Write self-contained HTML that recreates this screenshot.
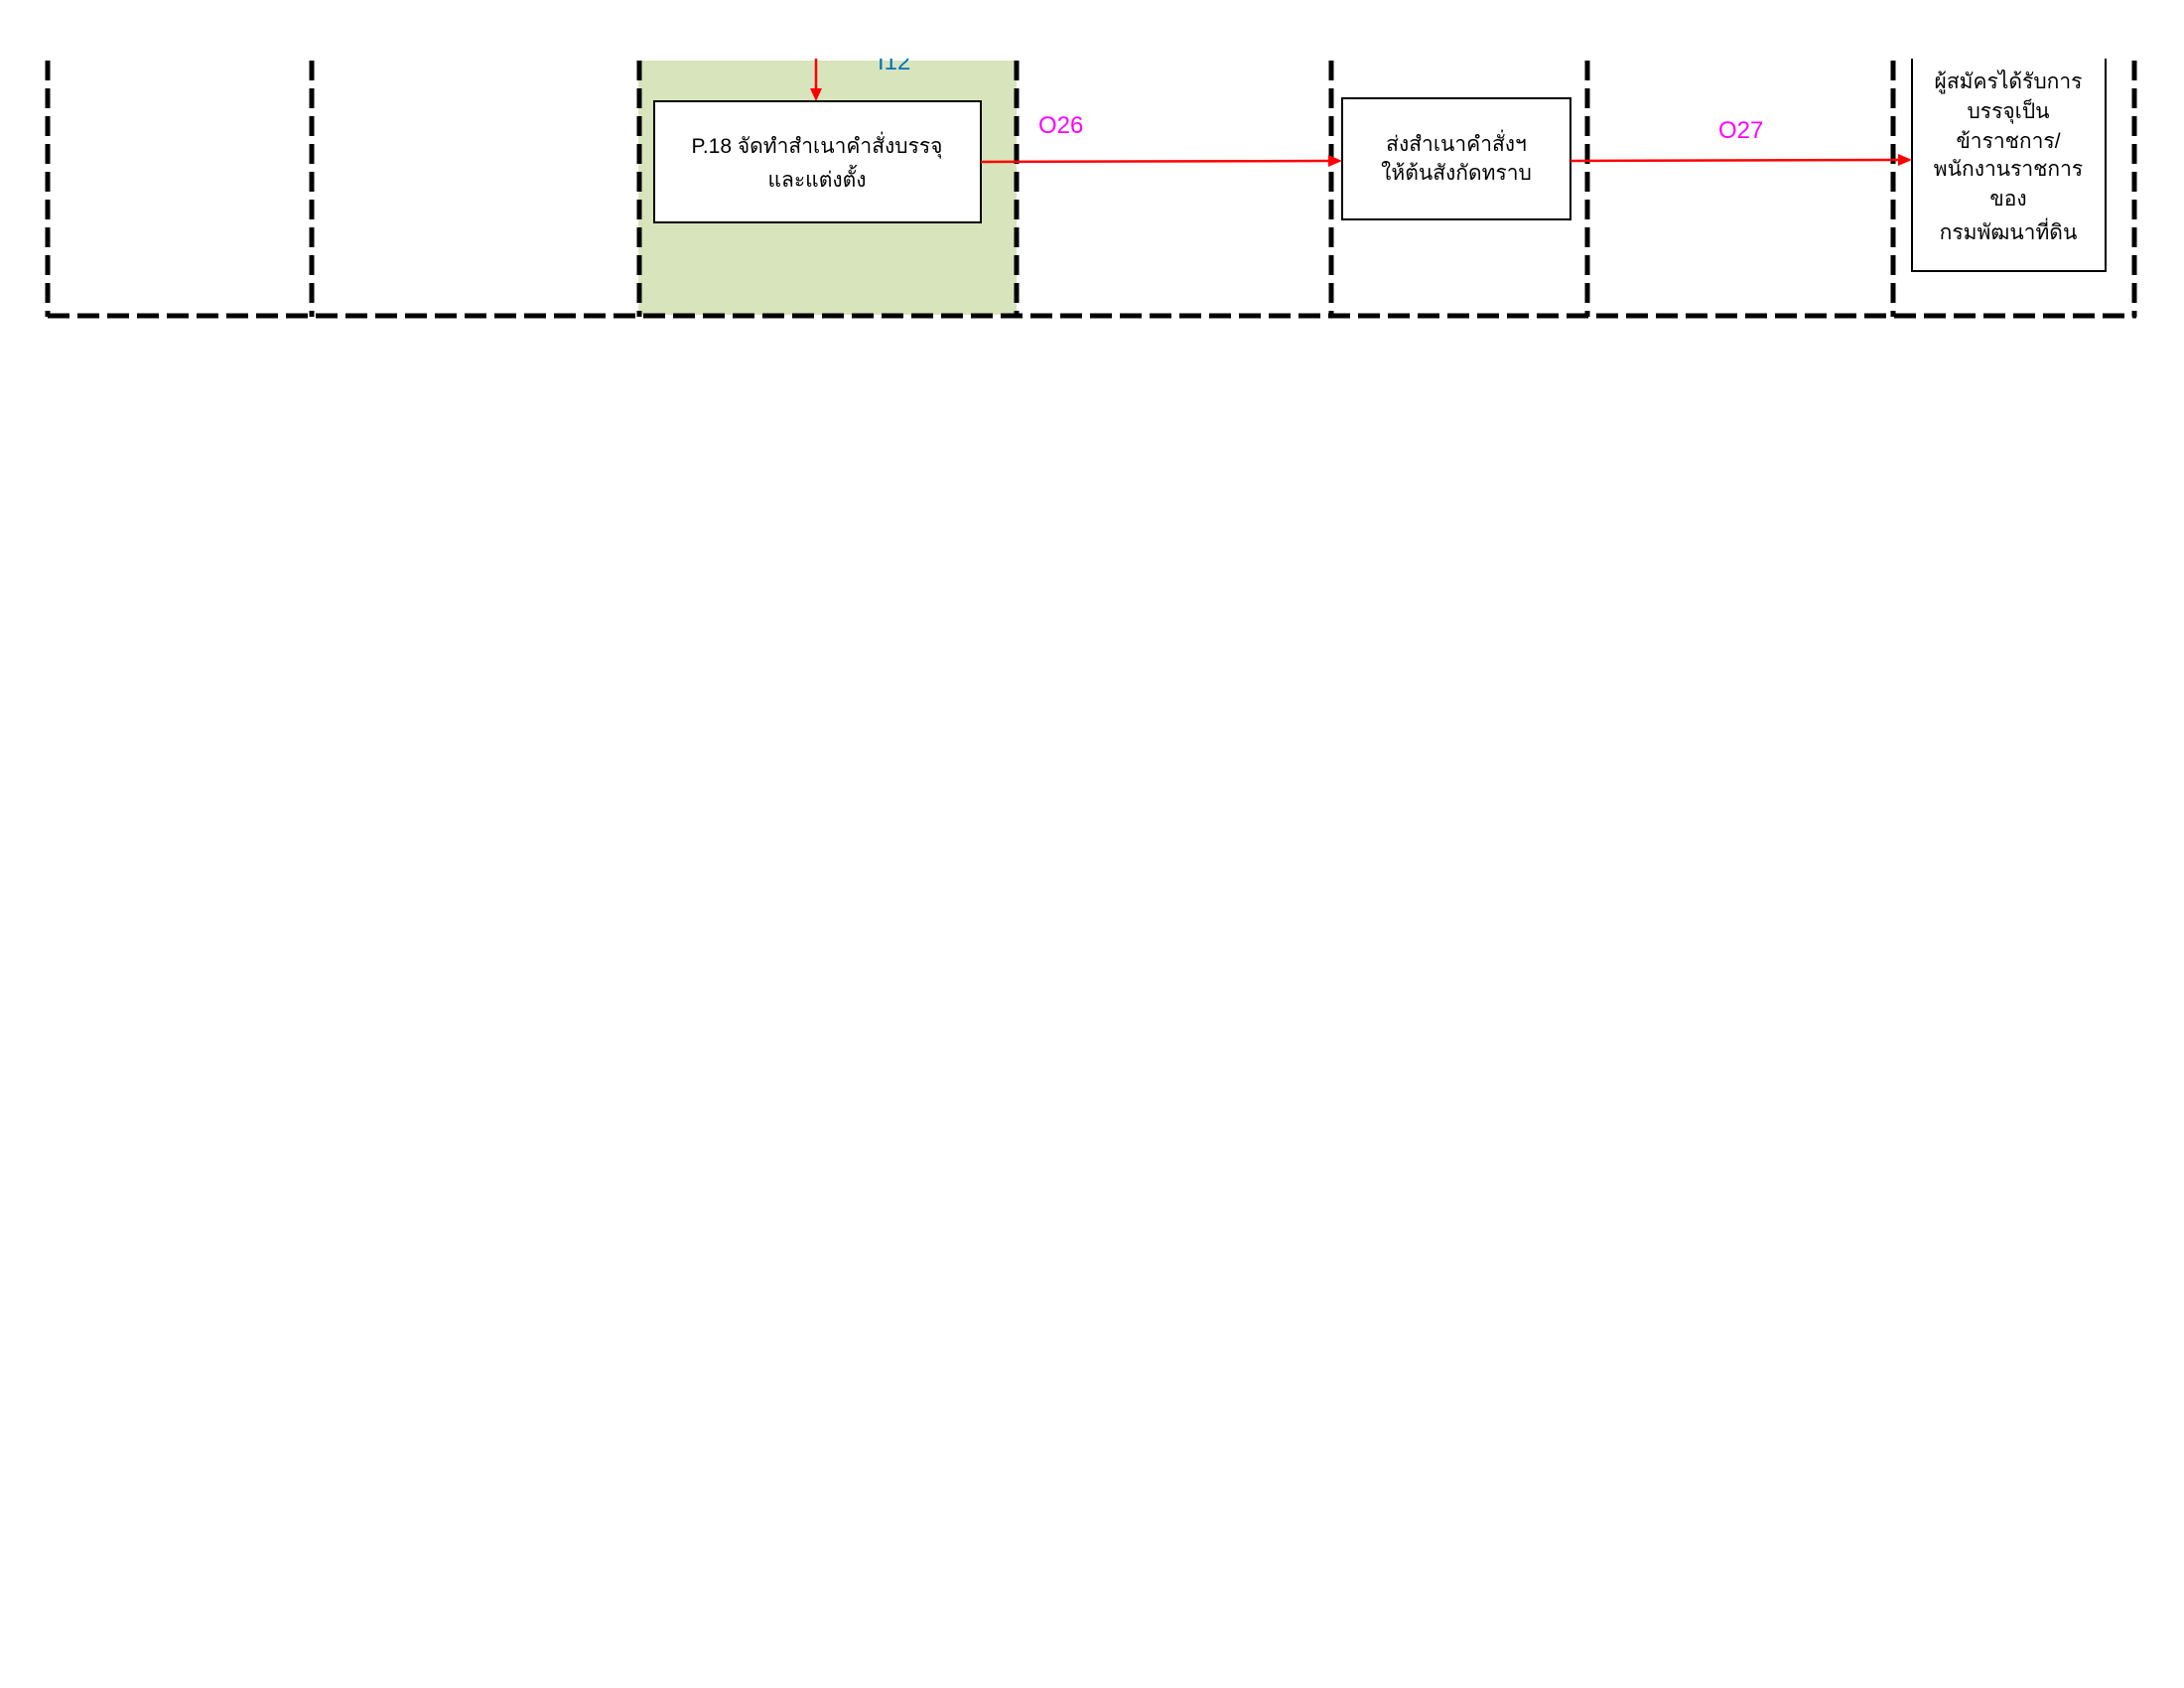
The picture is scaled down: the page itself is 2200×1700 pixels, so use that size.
<!DOCTYPE html>
<html><head><meta charset="utf-8"><style>
html,body{margin:0;padding:0;background:#fff;}
svg{display:block;}
text{font-family:"Liberation Sans","DejaVu Sans",sans-serif;}
</style></head><body>
<svg width="2200" height="1700" viewBox="0 0 2200 1700" xmlns="http://www.w3.org/2000/svg">
<rect x="643" y="61" width="381" height="256" fill="#d8e4bc"/>
<g stroke="#000" stroke-width="5" fill="none" stroke-dasharray="20,8">
<line x1="48" y1="61" x2="48" y2="319"/>
<line x1="314" y1="61" x2="314" y2="319"/>
<line x1="644" y1="61" x2="644" y2="319"/>
<line x1="1024" y1="61" x2="1024" y2="319"/>
<line x1="1341" y1="61" x2="1341" y2="319"/>
<line x1="1599" y1="61" x2="1599" y2="319"/>
<line x1="1907" y1="61" x2="1907" y2="319"/>
<line x1="2150" y1="61" x2="2150" y2="319"/>
</g>
<line x1="48" y1="318" x2="2152" y2="318" stroke="#000" stroke-width="5" stroke-dasharray="22,8"/>
<rect x="659" y="102" width="329" height="122" fill="#fff" stroke="#000" stroke-width="2"/>
<rect x="1352" y="99" width="230" height="122" fill="#fff" stroke="#000" stroke-width="2"/>
<rect x="1926" y="50" width="195" height="223" fill="#fff" stroke="#000" stroke-width="2"/>
<g stroke="#f00" stroke-width="2.5" fill="#f00">
<line x1="822" y1="59" x2="822" y2="92"/>
<polygon points="816,89 828,89 822,102" stroke="none"/>
<line x1="988" y1="163" x2="1340" y2="162"/>
<polygon points="1338,156 1338,168 1352,162" stroke="none"/>
<line x1="1582" y1="162" x2="1914" y2="161"/>
<polygon points="1912,155 1912,167 1926,161" stroke="none"/>
</g>
<text x="884" y="70" font-size="24" fill="#0070c0">I12</text>
<rect x="0" y="0" width="2200" height="59" fill="#fff"/>
<text x="1046" y="134" font-size="24" fill="#ff00ff">O26</text>
<text x="1731" y="139" font-size="24" fill="#ff00ff">O27</text>
<g font-size="21" text-anchor="middle" fill="#000">
<text x="823" y="154">P.18 จัดทำสำเนาคำสั่งบรรจุ</text>
<text x="823" y="188">และแต่งตั้ง</text>
<text x="1467" y="152">ส่งสำเนาคำสั่งฯ</text>
<text x="1467" y="181">ให้ต้นสังกัดทราบ</text>
<text x="2023" y="89">ผู้สมัครได้รับการ</text>
<text x="2023" y="119">บรรจุเป็น</text>
<text x="2023" y="149">ข้าราชการ/</text>
<text x="2023" y="177">พนักงานราชการ</text>
<text x="2023" y="207">ของ</text>
<text x="2023" y="241">กรมพัฒนาที่ดิน</text>
</g>
<rect x="0" y="0" width="2200" height="59" fill="#fff"/>
</svg>
</body></html>
